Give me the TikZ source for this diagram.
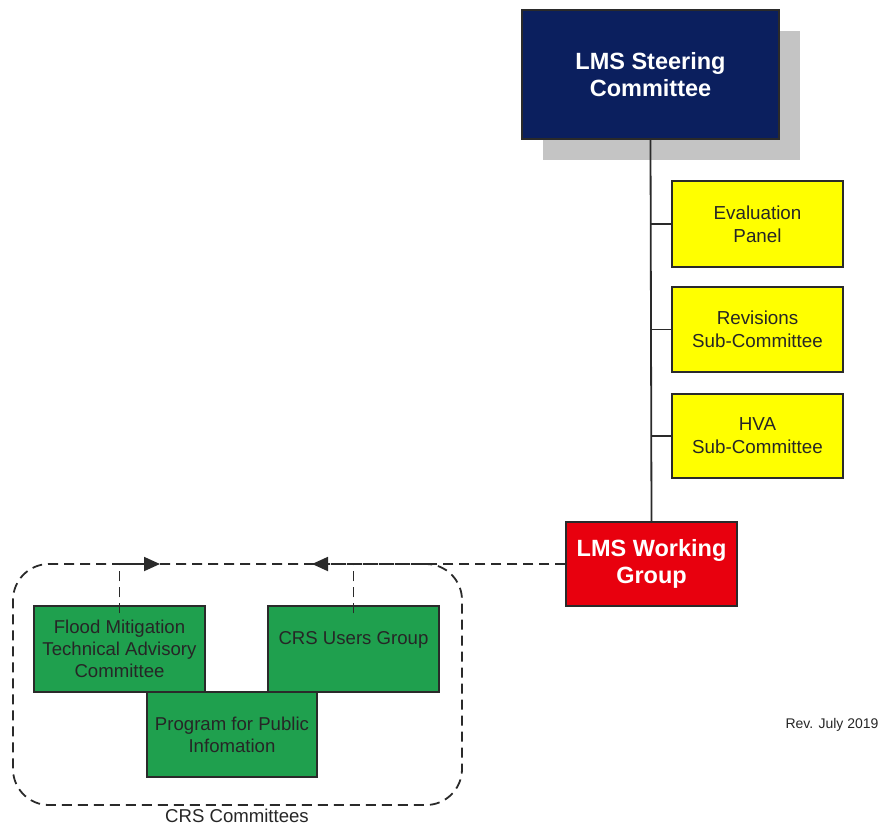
\documentclass[tikz,border=0pt]{standalone}
\usepackage{fontspec}
\setmainfont{Liberation Sans}
\usetikzlibrary{arrows.meta,shadows}
\definecolor{navy}{HTML}{0B1F5E}
\definecolor{lmsred}{HTML}{E8000E}
\definecolor{ylw}{HTML}{FFFF00}
\definecolor{grn}{HTML}{1FA04E}
\definecolor{shd}{HTML}{C4C4C4}
\definecolor{ln}{HTML}{2A2A2A}
\tikzset{
  box/.style={draw=ln, line width=1.5pt, inner sep=0pt, align=center},
  bigbox/.style={box, font=\fontsize{23.5}{27}\selectfont\bfseries, text=white},
  ybox/.style={box, fill=ylw, minimum width=171pt, font=\fontsize{18.8}{23}\selectfont, text=black!85},
  gbox/.style={box, fill=grn, minimum width=171pt, minimum height=86pt, font=\fontsize{18.6}{22}\selectfont, text=black!85},
  solid link/.style={draw=ln, line width=1.8pt},
  dash link/.style={draw=ln, line width=1.8pt, dash pattern=on 10pt off 6pt},
  tip/.style={-{Triangle[length=16pt,width=14pt]}}
}
\begin{document}
\begin{tikzpicture}[x=1pt,y=-1pt]
\useasboundingbox (0,0) rectangle (879,828);
% steering committee
\node[bigbox, fill=navy, minimum width=257pt, minimum height=129pt,
  drop shadow={shadow xshift=21pt, shadow yshift=-21pt, fill=shd, opacity=1}]
  (steer) at (650.5,74.5) {LMS Steering\\Committee};
% yellow panels
\node[ybox, minimum height=86pt] (eval) at (757.5,224) {Evaluation\\Panel};
\node[ybox, minimum height=85pt] (rev) at (757.5,329.5) {Revisions\\Sub-Committee};
\node[ybox, minimum height=84pt] (hva) at (757.5,436) {HVA\\Sub-Committee};
% working group
\node[bigbox, fill=lmsred, minimum width=171pt, minimum height=84pt]
  (work) at (651.5,564) {LMS Working\\Group};
% trunk and branches
\draw[solid link] (steer.south) -- (work.north);
\draw[solid link] (eval.west -| steer.south) -- (eval.west);
\draw[solid link] (rev.west -| steer.south) -- (rev.west);
\draw[solid link] (hva.west -| steer.south) -- (hva.west);
% CRS committees group
\node[draw=ln, line width=1.8pt, dash pattern=on 10pt off 6pt, rounded corners=36pt,
  minimum width=449pt, minimum height=241pt, inner sep=0pt] (grp) at (237.5,684.5) {};
\node[font=\fontsize{18.6}{21}\selectfont, text=black!85] (grplbl) at (237,816) {CRS Committees};
\node[gbox] (fm) at (119.5,649) {Flood Mitigation\\Technical Advisory\\Committee};
\node[gbox] (crs) at (353.5,649) {CRS Users Group\\\mbox{}};
\node[gbox, minimum width=170pt, minimum height=85pt] (ppi) at (232,734.5) {Program for Public\\Infomation};
% dashed connectors
\coordinate (tipL) at (160,564);
\coordinate (tipR) at (312,564);
\draw[dash link, tip] (work.west) -- (tipR);
\draw[dash link] ([yshift=-8pt]crs.north) -- (crs.north |- work.west);
\draw[dash link, tip] ([yshift=-8pt]fm.north) |- (tipL);
% revision note
\node[font=\fontsize{14}{16}\selectfont, text=black!85] (revnote) at (832,724.5) {Rev. July 2019};
\end{tikzpicture}
\end{document}
